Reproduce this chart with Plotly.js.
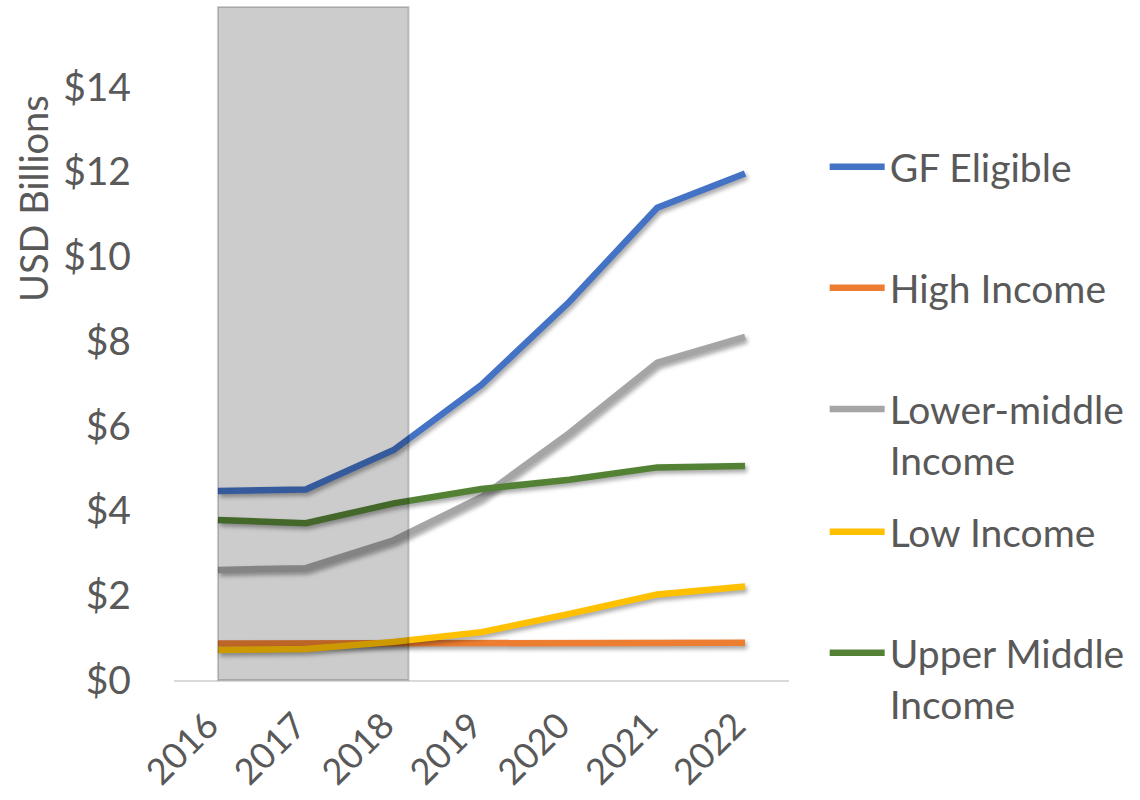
<!DOCTYPE html>
<html>
<head>
<meta charset="utf-8">
<script src="https://cdn.plot.ly/plotly-3.0.1.min.js"></script>
<style>
  html, body { margin: 0; padding: 0; background: #fff; }
  #chart { width: 1140px; height: 800px; }
  .scatterlayer .trace path.js-line { filter: drop-shadow(2px 3px 2px rgba(0,0,0,0.35)); }
</style>
</head>
<body>
<div id="chart"></div>
<script>
const years = [2016, 2017, 2018, 2019, 2020, 2021, 2022];
const gfEligible   = [4.46, 4.50, 5.43, 6.97, 8.93, 11.15, 11.96];
const highIncome   = [0.86, 0.86, 0.88, 0.88, 0.88, 0.88, 0.88];
const lowerMiddle  = [2.60, 2.64, 3.30, 4.32, 5.83, 7.49, 8.10];
const lowIncome    = [0.71, 0.73, 0.90, 1.13, 1.56, 2.02, 2.21];
const upperMiddle  = [3.78, 3.70, 4.17, 4.51, 4.73, 5.02, 5.05];

const seriesNames = ['GF Eligible', 'High Income', 'Lower-middle<br>Income', 'Low Income', 'Upper Middle<br>Income'];
const seriesData = [gfEligible, highIncome, lowerMiddle, lowIncome, upperMiddle];
const seriesColors = ['#4472C4', '#ED7D31', '#A5A5A5', '#FFC000', '#548235'];
const legendIds = ['legend', 'legend2', 'legend3', 'legend4', 'legend5'];
const legendY = [0.810, 0.630, 0.450, 0.2675, 0.0877];

const shadedStart = 2016;
const shadedEnd = 2018.17;

const textColor = '#595959';
const fontFamily = 'Lato, "Open Sans", sans-serif';

const traces = seriesData.map((vals, i) => ({
  x: years,
  y: vals,
  type: 'scatter',
  mode: 'lines',
  name: seriesNames[i],
  legend: legendIds[i],
  line: { color: seriesColors[i], width: 6.5 },
  hoverinfo: 'x+y+name'
}));

const layout = {
  width: 1140,
  height: 800,
  margin: { l: 174, r: 351, t: 7, b: 120 },
  paper_bgcolor: '#ffffff',
  plot_bgcolor: '#ffffff',
  font: { family: fontFamily, color: textColor, size: 38 },
  xaxis: {
    range: [2015.5, 2022.5],
    tickvals: years,
    ticktext: years.map(String),
    tickangle: -45,
    ticklabelshift: -10,
    ticklabelstandoff: 8,
    showgrid: false,
    zeroline: false,
    showline: true,
    linecolor: '#d9d9d9',
    linewidth: 2,
    ticks: '',
    tickfont: { size: 36, color: textColor, family: fontFamily },
    fixedrange: true
  },
  yaxis: {
    range: [0, 15.89],
    dtick: 2,
    tick0: 0,
    tickprefix: '$',
    showgrid: false,
    zeroline: false,
    showline: false,
    ticks: '',
    ticklabelstandoff: 42,
    tickfont: { size: 39, color: textColor, family: fontFamily },
    fixedrange: true
  },
  shapes: [{
    type: 'rect',
    xref: 'x', yref: 'paper',
    x0: shadedStart, x1: shadedEnd, y0: 0, y1: 1,
    fillcolor: 'rgba(0,0,0,0.2)',
    line: { color: 'rgba(0,0,0,0.18)', width: 2 },
    layer: 'above'
  }],
  annotations: [{
    text: 'USD Billions',
    xref: 'paper', yref: 'paper',
    x: -0.229, y: 0.715,
    xanchor: 'center', yanchor: 'middle',
    textangle: -90,
    showarrow: false,
    font: { size: 38, color: textColor, family: fontFamily }
  }],
  showlegend: true
};

legendIds.forEach((id, i) => {
  layout[id] = {
    x: 1.058,
    y: legendY[i],
    xanchor: 'left',
    yanchor: 'top',
    valign: 'top',
    bgcolor: 'rgba(0,0,0,0)',
    font: { size: 39, color: textColor, family: fontFamily },
    itemwidth: 55,
    tracegroupgap: 0
  };
});

Plotly.newPlot('chart', traces, layout, { displayModeBar: false, staticPlot: true });
</script>
</body>
</html>
